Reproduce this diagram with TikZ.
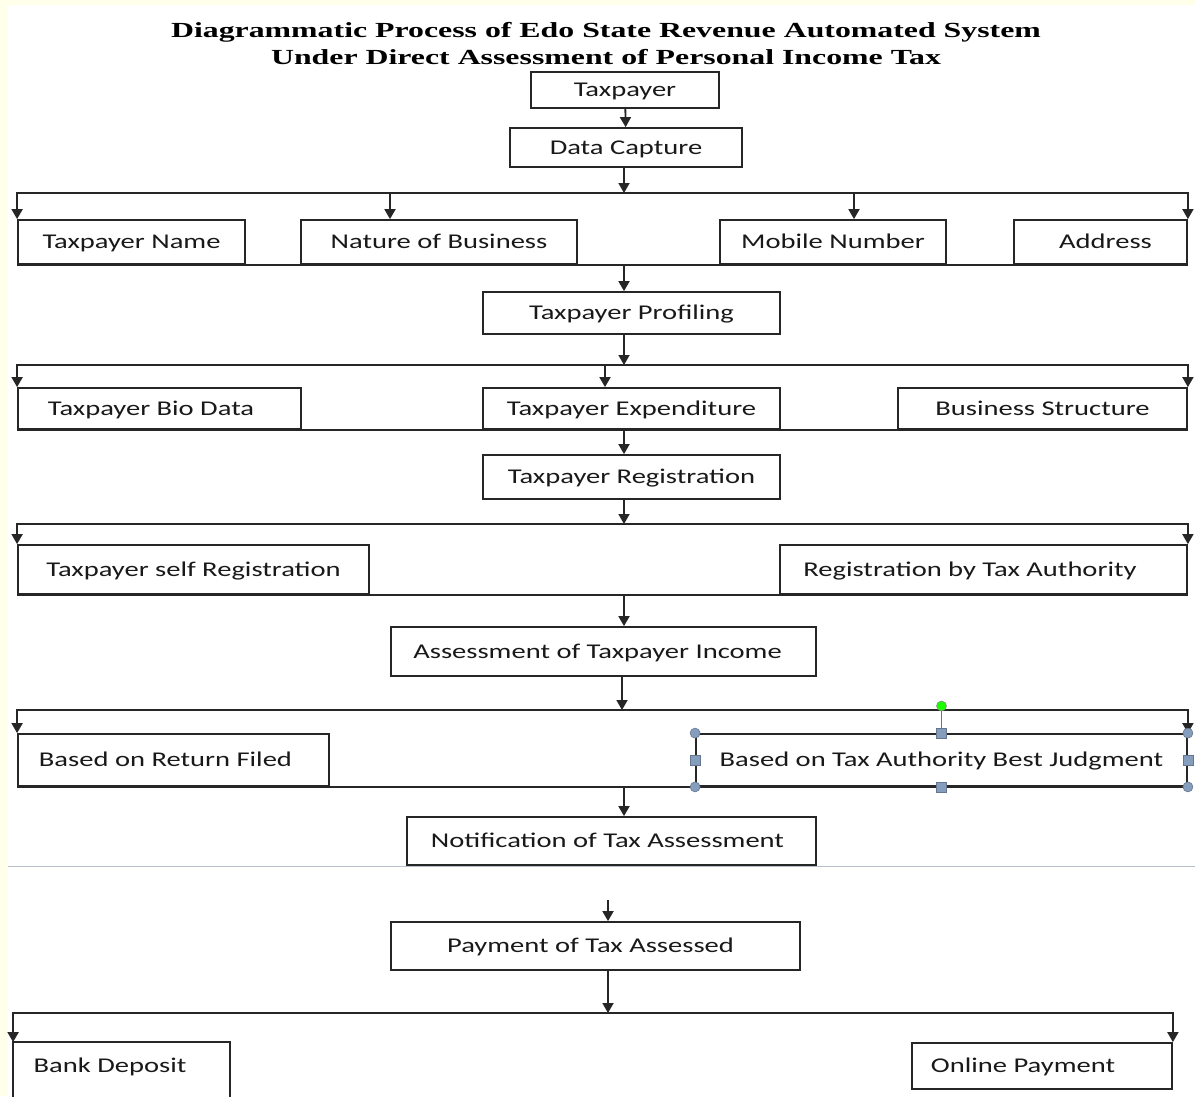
\documentclass[tikz,border=0pt]{standalone}
\usepackage{fontspec}
\setmainfont{Carlito}[FakeStretch=1.36]
\newfontfamily\titlefont{Liberation Serif}[FakeStretch=1.48]
\usetikzlibrary{calc,arrows.meta,positioning}
\definecolor{cream}{RGB}{255,255,234}
\definecolor{handleblue}{RGB}{134,158,190}
\definecolor{rulegray}{RGB}{184,192,202}

\begin{document}
\begin{tikzpicture}[x=1pt,y=-1pt,
    box/.style={draw=black!85,line width=1.8pt,rectangle,inner sep=0pt,text=black!90,
      text height=16pt,text depth=3pt,font=\fontsize{21}{24}\selectfont},
    arr/.style={draw=black!85,line width=1.8pt,-{Triangle[width=11pt,length=10pt]}},
    bus/.style={draw=black!85,line width=1.8pt},
    ttl/.style={inner sep=0pt,anchor=base,text=black,font=\titlefont\bfseries\fontsize{21.5}{24}\selectfont}]
  \useasboundingbox (0,0) rectangle (1195,1096);
  \clip (0,0) rectangle (1195,1096);
  \fill[cream] (0,0) rectangle (1195,1096);
  \fill[white] (8,5) rectangle (1195,1096);

  \node[ttl] (title1) at (606,37) {Diagrammatic Process of Edo State Revenue Automated System};
  \node[ttl] (title2) at (606,64) {Under Direct Assessment of Personal Income Tax};

  \node[box,minimum width=188pt,minimum height=36pt] (taxpayer) at (625,90) {Taxpayer};
  \node[box,minimum width=232pt,minimum height=39pt] (capture) at (626,147.5) {Data Capture};
  \draw[arr] (taxpayer) -- (capture);

  % captured data
  \node[box,minimum width=227pt,minimum height=44pt] (tname) at (131.5,242) {Taxpayer Name};
  \node[box,minimum width=276pt,minimum height=44pt] (nature) at (439,242) {Nature of Business};
  \node[box,minimum width=226pt,minimum height=44pt] (mobile) at (833,242) {Mobile Number};
  \node[box,minimum width=173pt,minimum height=44pt] (address) at (1100.5,242) {\hspace*{10pt}Address};
  \coordinate (bus1) at (624,193);
  \draw[arr] (capture.south -| bus1) -- (bus1);
  \draw[arr] (bus1) -| (tname.north west);
  \draw[arr] (bus1) -| (address.north east);
  \draw[arr] ([xshift=-49pt]nature.north |- bus1) -- ([xshift=-49pt]nature.north);
  \draw[arr] ([xshift=21pt]mobile.north |- bus1) -- ([xshift=21pt]mobile.north);
  \draw[bus] (tname.south west) -- (address.south east);

  \node[box,minimum width=297pt,minimum height=42pt] (profiling) at (631.5,313) {Taxpayer Profiling};
  \coordinate (bot1) at (624,264);
  \draw[arr] (bot1) -- (bot1 |- profiling.north);

  % profiling
  \node[box,minimum width=283pt,minimum height=41pt] (biodata) at (159.5,408.5) {Taxpayer Bio Data\hspace*{17pt}};
  \node[box,minimum width=297pt,minimum height=41pt] (expend) at (631.5,408.5) {Taxpayer Expenditure};
  \node[box,minimum width=289pt,minimum height=41pt] (structure) at (1042.5,408.5) {Business Structure};
  \coordinate (bus2) at (624,365);
  \draw[arr] (profiling.south -| bus2) -- (bus2);
  \draw[arr] (bus2) -| (biodata.north west);
  \draw[arr] (bus2) -| (structure.north east);
  \draw[arr] ([xshift=-26.5pt]expend.north |- bus2) -- ([xshift=-26.5pt]expend.north);
  \draw[bus] (biodata.south west) -- (structure.south east);

  \node[box,minimum width=297pt,minimum height=44pt] (registration) at (631.5,477) {Taxpayer Registration};
  \coordinate (bot2) at (624,429);
  \draw[arr] (bot2) -- (bot2 |- registration.north);

  % registration
  \node[box,minimum width=351pt,minimum height=49pt] (selfreg) at (193.5,569.5) {Taxpayer self Registration};
  \node[box,minimum width=407pt,minimum height=49pt] (authreg) at (983.5,569.5) {Registration by Tax Authority\hspace*{27pt}};
  \coordinate (bus3) at (624,524);
  \draw[arr] (registration.south -| bus3) -- (bus3);
  \draw[arr] (bus3) -| (selfreg.north west);
  \draw[arr] (bus3) -| (authreg.north east);
  \draw[bus] (selfreg.south west) -- (authreg.south east);

  \node[box,minimum width=425pt,minimum height=49pt] (assess) at (603.5,651.5) {Assessment of Taxpayer Income\hspace*{12pt}};
  \coordinate (bot3) at (624,594);
  \draw[arr] (bot3) -- (bot3 |- assess.north);

  % assessment
  \node[box,minimum width=311pt,minimum height=52pt] (retfiled) at (173.5,760) {Based on Return Filed\hspace*{16pt}};
  \node[box,minimum width=491pt,minimum height=52pt] (judgment) at (941.5,760) {Based on Tax Authority Best Judgment};
  \coordinate (bus4) at (622,710);
  \draw[arr] (assess.south -| bus4) -- (bus4);
  \draw[arr] (bus4) -| (retfiled.north west);
  \draw[arr] (bus4) -| (judgment.north east);
  \draw[bus] (retfiled.south west) -- (judgment.south east);

  % selection handles
  \node[circle,draw=gray,fill=green!85!lime,inner sep=0pt,minimum size=10pt,line width=0.5pt] (hrot) at (941.5,706) {};
  \begin{scope}[every node/.style={rectangle,draw=handleblue!75!black,fill=handleblue,inner sep=0pt,minimum size=10pt,line width=0.6pt}]
    \node (hn) at (judgment.north) {};
    \node (hs) at (judgment.south) {};
    \node (hw) at (judgment.west) {};
    \node (he) at (judgment.east) {};
  \end{scope}
  \draw[handleblue!75!black,line width=1.2pt] (hrot) -- (hn);
  \begin{scope}[every node/.style={circle,draw=handleblue!75!black,fill=handleblue,inner sep=0pt,minimum size=10pt,line width=0.6pt}]
    \node (hnw) at (judgment.north west) {};
    \node (hne) at (judgment.north east) {};
    \node (hsw) at (judgment.south west) {};
    \node (hse) at (judgment.south east) {};
  \end{scope}

  \draw[rulegray,line width=1.5pt] (8,866.5) -- (1195,866.5);
  \node[box,fill=white,minimum width=409pt,minimum height=48pt] (notif) at (611.5,841) {Notification of Tax Assessment\hspace*{8pt}};
  \coordinate (bot4) at (624,786);
  \draw[arr] (bot4) -- (bot4 |- notif.north);

  % payment
  \node[box,minimum width=409pt,minimum height=48pt] (payment) at (595.5,946) {Payment of Tax Assessed\hspace*{10pt}};
  \coordinate (paystart) at (608,900);
  \draw[arr] (paystart) -- (paystart |- payment.north);
  \node[box,draw=none,minimum width=215pt,minimum height=46pt] (bank) at (121.5,1066) {Bank Deposit\hspace*{23pt}};
  \node[box,minimum width=260pt,minimum height=46pt] (online) at (1042,1066) {Online Payment\hspace*{38pt}};
  \draw[bus] ([yshift=-30pt]bank.south west) -- (bank.north west) -- (bank.north east) -- ([yshift=-30pt]bank.south east);
  \coordinate (bus5) at (608,1013);
  \draw[arr] (payment.south -| bus5) -- (bus5);
  \draw[arr] (bus5) -| (bank.north west);
  \draw[arr] (bus5) -| (online.north east);
\end{tikzpicture}
\end{document}
